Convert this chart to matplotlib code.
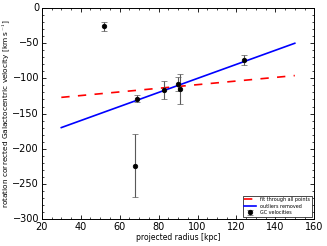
import matplotlib
matplotlib.use("Agg")
import matplotlib.pyplot as plt
from matplotlib.ticker import AutoMinorLocator

plt.style.use("classic")

radius = [52, 69, 68, 83, 90, 91, 124]
velocity = [-26, -129, -224, -116, -108, -115, -74]
errors = [6, 5, 45, 13, 10, 21, 7]

fit_x = [30, 150]
fit_all = [-127, -96]
fit_clean = [-170, -50]

fig = plt.figure(figsize=(3.27, 2.46), dpi=100)
ax = fig.add_axes([0.128, 0.11, 0.833, 0.857])

ax.plot(fit_x, fit_all, "r--", lw=1.2, label="fit through all points")
ax.plot(fit_x, fit_clean, "b-", lw=1.2, label="outliers removed")
ax.errorbar(radius, velocity, yerr=errors, fmt="o", color="black", ms=3.3,
            ecolor="0.35", elinewidth=0.8, capsize=2, mec="black",
            label="GC velocities")

ax.set_xlim(20, 160)
ax.set_ylim(-300, 0)
ax.xaxis.set_minor_locator(AutoMinorLocator(4))
ax.yaxis.set_minor_locator(AutoMinorLocator(5))
ax.tick_params(labelsize=7, length=3, width=0.6, pad=2)
ax.tick_params(which="minor", length=1.5, width=0.5)
ax.set_xlabel("projected radius [kpc]", fontsize=5.5, labelpad=1)
ax.set_ylabel(r"rotation corrected Galactocentric velocity [km s$^{-1}$]", fontsize=5.3, labelpad=0)
for s in ax.spines.values():
    s.set_linewidth(0.7)

leg = ax.legend(loc="lower right", fontsize=3.5, numpoints=1, handlelength=2.5,
                borderpad=0.3, labelspacing=0.3, frameon=True)
leg.get_frame().set_linewidth(0.5)

fig.savefig("out.png", dpi=100)
